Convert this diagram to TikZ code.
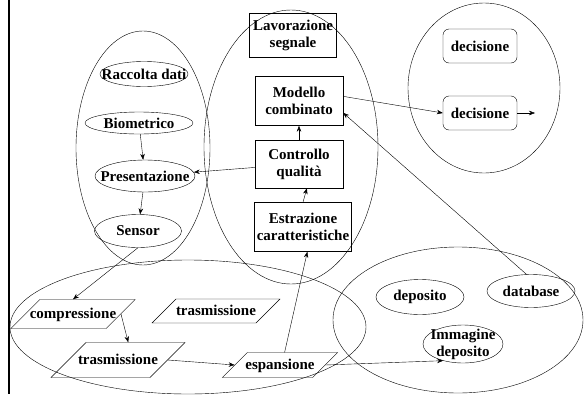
\documentclass[tikz,border=0pt]{standalone}
\usepackage{fontspec}
\setmainfont{Liberation Serif}
\usetikzlibrary{arrows.meta,shapes.geometric}

\begin{document}
\begin{tikzpicture}[x=1pt, y=-1pt,
    txt/.style={font=\fontsize{15}{17}\selectfont\bfseries, align=center},
    box/.style={rectangle, draw, txt, inner sep=1pt},
    ell/.style={ellipse, draw, txt, inner xsep=-15pt, inner ysep=-4pt},
    dec/.style={rectangle, draw, rounded corners=6pt, txt, inner sep=1pt,
                minimum width=74pt, minimum height=34pt},
    para/.style={trapezium, trapezium left angle=45, trapezium right angle=135,
                 trapezium stretches body=true, draw, txt,
                 text height=11pt, text depth=3pt},
    arr/.style={-{Stealth[length=6pt, width=4.5pt]}},
  ]
  \useasboundingbox (0,0) rectangle (584,394);

  % Bordo sinistro
  \draw[line width=2pt] (9,0) -- (9,394);

  % Gruppi
  \draw (143,148) ellipse [x radius=67, y radius=117];
  \draw (291,147) ellipse [x radius=87, y radius=137];
  \draw (484,88) ellipse [x radius=76, y radius=85];
  \draw (188,327) ellipse [x radius=178, y radius=67];
  \draw (458,320) ellipse [x radius=125, y radius=73];

  % Acquisizione
  \node[ell, minimum width=88pt, minimum height=25pt] (racc) at (144,74) {Raccolta dati};
  \node[ell, minimum width=108pt, minimum height=22pt] (bio) at (139,123) {Biometrico};
  \node[ell, minimum width=100pt, minimum height=32pt] (pres) at (145,176) {Presentazione};
  \node[ell, minimum width=87pt, minimum height=33pt] (sens) at (138,231) {Sensor};

  % Elaborazione
  \node[box, minimum width=87pt, minimum height=44pt] (lav) at (293,35)
    {Lavorazione\\segnale};
  \node[box, minimum width=88pt, minimum height=49pt] (mod) at (299,101)
    {Modello\\combinato};
  \node[box, minimum width=88pt, minimum height=48pt] (ctrl) at (299,164)
    {Controllo\\qualità};
  \node[box, minimum width=97pt, minimum height=49pt] (estr) at (303,227)
    {Estrazione\\caratteristiche};

  % Decisione
  \node[dec] (dec1) at (480,46) {decisione};
  \node[dec] (dec2) at (480,113) {decisione};
  \coordinate (out) at (535,113);

  % Trasmissione
  \node[para, inner ysep=7.5pt, inner xsep=-10pt] (comp) at (73,314) {compressione};
  \node[para, inner ysep=5pt, inner xsep=0pt] (tras1) at (216,311) {trasmissione};
  \node[para, inner ysep=10.5pt, inner xsep=-8pt] (tras2) at (118,360) {trasmissione};
  \node[para, inner ysep=5.5pt, inner xsep=-2pt] (esp) at (280,365) {espansione};

  % Archivio
  \node[ell, minimum width=88pt, minimum height=35pt] (dep) at (420,297) {deposito};
  \node[ell, minimum width=88pt, minimum height=33pt] (db) at (531,291) {database};
  \node[ell, minimum width=80pt, minimum height=38pt] (img) at (463,344)
    {Immagine\\deposito};

  % Frecce
  \draw[arr] (bio) -- (pres);
  \draw[arr] (pres) -- (sens);
  \draw[arr] (ctrl) -- (pres);
  \draw[arr] (ctrl) -- (mod);
  \draw[arr] (estr.north) -- (ctrl.-72);
  \draw[arr] (esp.70) -- (estr.-80);
  \draw[arr] (mod.6) -- (dec2.west);
  \draw[arr] (db.105) -- (mod.-15);
  \draw[arr] (dec2.east) -- (out);
  \draw[arr] (sens.south) -- (comp.north);
  \draw[arr] (comp.east) -- (tras2.60);
  \draw[arr] (tras2.east) -- (esp.west);
  \draw[arr] (esp.east) -- (img.220);
\end{tikzpicture}
\end{document}
